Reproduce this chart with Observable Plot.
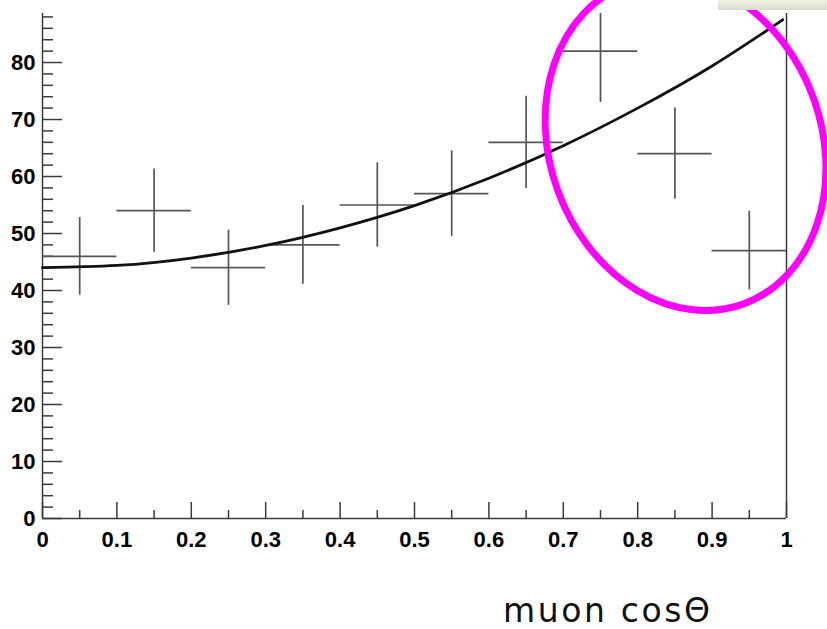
<!DOCTYPE html>
<html>
<head>
<meta charset="utf-8">
<script src="https://cdn.jsdelivr.net/npm/d3@7"></script>
<script src="https://cdn.jsdelivr.net/npm/@observablehq/plot@0.6"></script>
<style>
html, body { margin: 0; padding: 0; background: #fff; }
#wrap { position: relative; width: 827px; height: 629px; overflow: hidden; background: #fff; }
#xtitle { position: absolute; left: 503px; top: 594px; font-family: "DejaVu Sans", Verdana, sans-serif; font-size: 33px; line-height: 33px; letter-spacing: 2.6px; color: #111; white-space: nowrap; }
#bar { position: absolute; left: 718px; top: 0; width: 109px; height: 10px; background: linear-gradient(#f1f1e8, #d9d9cc); }
#chart svg text { font-size: 22px !important; font-weight: bold !important; font-family: 'Liberation Sans', Arial, sans-serif !important; }
</style>
</head>
<body>
<div id="wrap"><div id="chart"></div><div id="bar"></div><div id="xtitle">muon cosΘ</div></div>
<script>
// Histogram bins (muon cosθ), counts and error bars
const binLow    = [0.0, 0.1, 0.2, 0.3, 0.4, 0.5, 0.6, 0.7, 0.8, 0.9];
const binHigh   = [0.1, 0.2, 0.3, 0.4, 0.5, 0.6, 0.7, 0.8, 0.9, 1.0];
const binCenter = [0.05, 0.15, 0.25, 0.35, 0.45, 0.55, 0.65, 0.75, 0.85, 0.95];
const counts    = [46, 54, 44, 48, 55, 57, 66, 82, 64, 47];
const errors    = [6.8, 7.3, 6.6, 6.9, 7.4, 7.5, 8.1, 9.0, 8.0, 6.9];

// Fitted curve
const fitX = [0, 0.1, 0.2, 0.3, 0.4, 0.5, 0.6, 0.7, 0.8, 0.9, 0.995];
const fitY = [44.0, 44.4, 45.7, 47.9, 51.0, 54.9, 59.7, 65.4, 72.0, 79.4, 87.5];

// Axis ticks and labels
const xMajorTicks = [0, 0.1, 0.2, 0.3, 0.4, 0.5, 0.6, 0.7, 0.8, 0.9, 1];
const xTickLabels = ["0", "0.1", "0.2", "0.3", "0.4", "0.5", "0.6", "0.7", "0.8", "0.9", "1"];
const xMinorTicks = [0.05, 0.15, 0.25, 0.35, 0.45, 0.55, 0.65, 0.75, 0.85, 0.95];
const yMajorTicks = [0, 10, 20, 30, 40, 50, 60, 70, 80];
const yMinorTicks = [2, 4, 6, 8, 12, 14, 16, 18, 22, 24, 26, 28, 32, 34, 36, 38, 42, 44, 46, 48,
                     52, 54, 56, 58, 62, 64, 66, 68, 72, 74, 76, 78, 82, 84, 86, 88];

// Highlight annotation (centre in data units)
const highlightX = [0.865];
const highlightY = [65.6];

const bins = binCenter.map((c, i) => ({center: c, lo: binLow[i], hi: binHigh[i], count: counts[i], err: errors[i]}));
const fit = fitX.map((x, i) => ({x, y: fitY[i]}));
const xLabelOf = new Map(xMajorTicks.map((t, i) => [t, xTickLabels[i]]));

const W = 827, H = 575, mL = 42, mR = 41, mT = 13, mB = 57;
const plotW = W - mL - mR, plotH = H - mT - mB;
const axisColor = "#3a3a3a";
const crossColor = "#555";
const labelFont = "'Liberation Sans', Arial, sans-serif";

const plot = Plot.plot({
  width: W, height: H,
  marginLeft: mL, marginRight: mR, marginTop: mT, marginBottom: mB,
  x: {domain: [0, 1]},
  y: {domain: [0, 88.6]},
  style: {fontFamily: labelFont, fontSize: "22px", fontWeight: "bold", color: "#000", background: "transparent", overflow: "visible"},
  marks: [
    // frame
    Plot.ruleX([0, 1], {stroke: axisColor, strokeWidth: 1.5}),
    Plot.ruleY([0], {stroke: axisColor, strokeWidth: 1.5}),
    // inward ticks
    Plot.tickY(yMajorTicks, {y: d => d, insetRight: plotW - 20, stroke: axisColor, strokeWidth: 1.5}),
    Plot.tickY(yMinorTicks, {y: d => d, insetRight: plotW - 11, stroke: axisColor, strokeWidth: 1.5}),
    Plot.tickX(xMajorTicks, {x: d => d, insetTop: plotH - 16, stroke: axisColor, strokeWidth: 1.5}),
    Plot.tickX(xMinorTicks, {x: d => d, insetTop: plotH - 8, stroke: axisColor, strokeWidth: 1.5}),
    // labels
    Plot.axisX({ticks: xMajorTicks, tickFormat: d => xLabelOf.get(d), tickSize: 0, tickPadding: 13, label: null, fill: "#000"}),
    Plot.axisY({ticks: yMajorTicks, tickSize: 0, tickPadding: 7, label: null, fill: "#000"}),
    // data crosses
    Plot.ruleY(bins, {y: "count", x1: "lo", x2: "hi", stroke: crossColor, strokeWidth: 1.7}),
    Plot.ruleX(bins, {x: "center", y1: d => d.count - d.err, y2: d => d.count + d.err, stroke: crossColor, strokeWidth: 1.7, clip: true}),
    // fit curve
    Plot.line(fit, {x: "x", y: "y", curve: "natural", stroke: "#111", strokeWidth: 2.8})
  ]
});

const sx = plot.scale("x"), sy = plot.scale("y");
const cx = sx.apply(highlightX[0]), cy = sy.apply(highlightY[0]);
d3.select(plot).append("ellipse")
  .attr("cx", cx).attr("cy", cy)
  .attr("rx", 136).attr("ry", 170)
  .attr("transform", `rotate(-20 ${cx} ${cy})`)
  .attr("fill", "none")
  .attr("stroke", "#ff00ff")
  .attr("stroke-width", 7);

document.getElementById("chart").appendChild(plot);
</script>
</body>
</html>
